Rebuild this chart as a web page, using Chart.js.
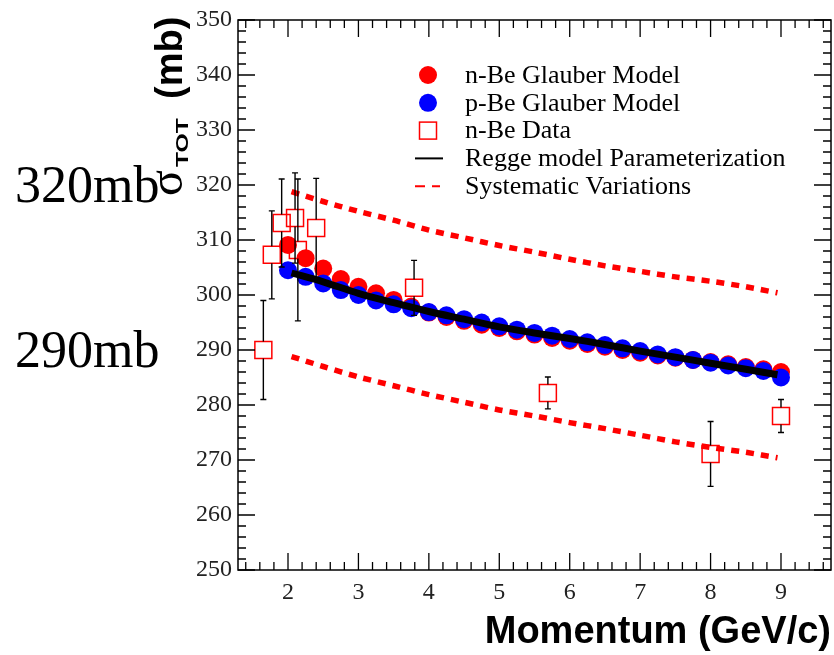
<!DOCTYPE html>
<html><head><meta charset="utf-8">
<script src="https://cdn.jsdelivr.net/npm/chart.js@4.4.1/dist/chart.umd.min.js"></script>
<style>html,body{margin:0;padding:0;background:#fff}#wrap{width:834px;height:655px;position:relative}</style>
</head><body><div id="wrap"><canvas id="c" width="834" height="655"></canvas></div>
<script>
// ---- data ----
const glauberMomenta = [2.0,2.25,2.5,2.75,3.0,3.25,3.5,3.75,4.0,4.25,4.5,4.75,5.0,5.25,5.5,5.75,6.0,6.25,6.5,6.75,7.0,7.25,7.5,7.75,8.0,8.25,8.5,8.75,9.0];
const nBeGlauber = [309.1,306.7,304.8,302.9,301.5,300.3,299.1,297.9,296.8,296.0,295.3,294.6,294.0,293.4,292.8,292.2,291.7,291.1,290.6,290.0,289.5,289.0,288.6,288.2,287.8,287.4,286.9,286.5,286.0];
const pBeGlauber = [304.5,303.3,302.1,300.9,300.0,299.0,298.3,297.6,296.9,296.3,295.6,295.0,294.3,293.7,293.1,292.6,292.0,291.4,290.9,290.3,289.8,289.2,288.7,288.2,287.7,287.2,286.7,286.2,285.0];
const dataMomenta = [1.65,1.77,1.91,2.10,2.14,2.40,3.79,5.69,8.00,9.00];
const nBeData = [290.0,307.3,313.1,314.0,308.2,312.2,301.3,282.2,271.1,278.0];
const nBeDataErr = [9.0,8.0,8.0,8.2,12.9,9.0,5.0,2.9,5.9,3.0];
const curveMomenta = [2.05,2.5,3.0,3.5,4.0,4.5,5.0,5.5,6.0,6.5,7.0,7.5,8.0,8.5,8.95];
const reggeFit = [304.0,302.4,300.3,298.6,297.0,295.6,294.2,293.1,292.1,291.0,289.8,288.7,287.6,286.5,285.5];
const sysUpper = [318.8,317.0,315.2,313.6,311.8,310.4,309.0,307.8,306.5,305.3,304.3,303.3,302.5,301.5,300.4];
const sysLower = [288.8,287.0,285.1,283.5,281.9,280.5,279.1,278.0,276.8,275.7,274.5,273.3,272.3,271.4,270.4];
const xTickValues = [2,3,4,5,6,7,8,9];
const yTickValues = [250,260,270,280,290,300,310,320,330,340,350];
const annotationValues = [320,290];
const annotationTexts = ['320mb','290mb'];
const seriesLabels = ['n-Be Glauber Model','p-Be Glauber Model','n-Be Data','Regge model Parameterization','Systematic Variations'];

const pts = (xs, ys) => xs.map((v, i) => ({x: v, y: ys[i]}));
const RED = '#ff0000', BLUE = '#0000ff';

const datasets = [
  {label: seriesLabels[0], data: pts(glauberMomenta, nBeGlauber), pointStyle: 'circle', pointRadius: 9, backgroundColor: RED, borderWidth: 0, showLine: false, order: 5},
  {label: seriesLabels[1], data: pts(glauberMomenta, pBeGlauber), pointStyle: 'circle', pointRadius: 9, backgroundColor: BLUE, borderWidth: 0, showLine: false, order: 4},
  {label: seriesLabels[2], data: pts(dataMomenta, nBeData), pointStyle: 'rect', pointRadius: 12, backgroundColor: 'rgba(0,0,0,0)', borderColor: RED, borderWidth: 1.5, showLine: false, order: 1},
  {label: seriesLabels[3], data: pts(curveMomenta, reggeFit), showLine: true, borderColor: '#000', borderWidth: 7, pointRadius: 0, tension: 0.3, order: 3},
  {label: seriesLabels[4], data: pts(curveMomenta, sysUpper), showLine: true, borderColor: RED, borderWidth: 5.5, borderDash: [8, 7], pointRadius: 0, tension: 0.3, order: 2},
  {label: seriesLabels[4], data: pts(curveMomenta, sysLower), showLine: true, borderColor: RED, borderWidth: 5.5, borderDash: [8, 7], pointRadius: 0, tension: 0.3, order: 2}
];
const legendDatasetIndex = [0, 1, 2, 3, 4];

const errorBars = {
  id: 'errorBars',
  afterDatasetsDraw(chart) {
    const {ctx, scales: {x, y}} = chart;
    ctx.save();
    ctx.strokeStyle = '#000'; ctx.lineWidth = 1.4;
    const half = 8.5, cap = 3;
    dataMomenta.forEach((m, i) => {
      const px = x.getPixelForValue(m);
      const py = y.getPixelForValue(nBeData[i]);
      const pt = y.getPixelForValue(nBeData[i] + nBeDataErr[i]);
      const pb = y.getPixelForValue(nBeData[i] - nBeDataErr[i]);
      ctx.beginPath();
      if (py - half > pt) { ctx.moveTo(px, pt); ctx.lineTo(px, py - half); }
      if (py + half < pb) { ctx.moveTo(px, py + half); ctx.lineTo(px, pb); }
      ctx.moveTo(px - cap, pt); ctx.lineTo(px + cap, pt);
      ctx.moveTo(px - cap, pb); ctx.lineTo(px + cap, pb);
      ctx.stroke();
    });
    ctx.restore();
  }
};

const frameAndText = {
  id: 'frameAndText',
  afterDraw(chart) {
    const {ctx, chartArea: a, scales: {x, y}} = chart;
    ctx.save();
    // frame
    ctx.strokeStyle = '#000'; ctx.lineWidth = 1.5;
    ctx.strokeRect(a.left, a.top, a.right - a.left, a.bottom - a.top);
    ctx.lineWidth = 1.3;
    ctx.beginPath();
    for (let v = Math.ceil(x.min * 5) / 5; v <= x.max + 1e-9; v = Math.round((v + 0.2) * 10) / 10) {
      const px = x.getPixelForValue(v);
      const len = Math.abs(v - Math.round(v)) < 1e-6 ? 17 : 8;
      ctx.moveTo(px, a.bottom); ctx.lineTo(px, a.bottom - len);
      ctx.moveTo(px, a.top); ctx.lineTo(px, a.top + len);
    }
    for (let v = y.min; v <= y.max + 1e-9; v += 2) {
      const py = y.getPixelForValue(v);
      const len = (v % 10 === 0) ? 17 : 8;
      ctx.moveTo(a.left, py); ctx.lineTo(a.left + len, py);
      ctx.moveTo(a.right, py); ctx.lineTo(a.right - len, py);
    }
    ctx.stroke();

    // legend
    const ds = chart.data.datasets;
    const mx = 428, tx = 465;
    legendDatasetIndex.forEach((di, row) => {
      const d = ds[di];
      const cy = 75 + row * 27.8;
      ctx.save();
      if (di === 0 || di === 1) {
        ctx.fillStyle = d.backgroundColor;
        ctx.beginPath(); ctx.arc(mx, cy, 9, 0, Math.PI * 2); ctx.fill();
      } else if (di === 2) {
        ctx.strokeStyle = d.borderColor; ctx.lineWidth = 1.5;
        ctx.strokeRect(mx - 8.5, cy - 8.5, 17, 17);
      } else if (di === 3) {
        ctx.strokeStyle = d.borderColor; ctx.lineWidth = 2;
        ctx.beginPath(); ctx.moveTo(mx - 13, cy); ctx.lineTo(mx + 15, cy); ctx.stroke();
      } else {
        ctx.strokeStyle = d.borderColor; ctx.lineWidth = 2;
        ctx.beginPath();
        ctx.moveTo(mx - 13, cy); ctx.lineTo(mx - 3, cy);
        ctx.moveTo(mx + 4, cy); ctx.lineTo(mx + 12, cy);
        ctx.stroke();
      }
      ctx.restore();
      ctx.fillStyle = '#000';
      ctx.font = '26px "Liberation Serif", "Times New Roman", serif';
      ctx.textAlign = 'left'; ctx.textBaseline = 'middle';
      ctx.fillText(d.label, tx, cy + 1);
    });

    // x title
    ctx.fillStyle = '#000';
    ctx.font = 'bold 38px "Liberation Sans", Arial, sans-serif';
    ctx.textAlign = 'right'; ctx.textBaseline = 'alphabetic';
    ctx.fillText('Momentum (GeV/c)', 831, 643);

    // y title (rotated) : sigma_TOT (mb)
    ctx.save();
    ctx.translate(182, 196);
    ctx.rotate(-Math.PI / 2);
    ctx.textAlign = 'left'; ctx.textBaseline = 'alphabetic';
    ctx.font = '48px "Liberation Serif", serif';
    ctx.fillText('\u03C3', 0, 0);
    ctx.save();
    ctx.translate(29, 6);
    ctx.scale(1.45, 1);
    ctx.font = 'bold 17px "Liberation Sans", Arial, sans-serif';
    ctx.fillText('TOT', 0, 0);
    ctx.restore();
    ctx.font = 'bold 38px "Liberation Sans", Arial, sans-serif';
    ctx.fillText('(mb)', 97, 0);
    ctx.restore();

    // annotations
    ctx.font = '52px "Liberation Serif", "Times New Roman", serif';
    ctx.textAlign = 'left'; ctx.textBaseline = 'middle';
    annotationValues.forEach((v, i) => {
      ctx.fillText(annotationTexts[i], 15, y.getPixelForValue(v) + 3);
    });
    ctx.restore();
  }
};

new Chart(document.getElementById('c'), {
  type: 'scatter',
  data: {datasets},
  options: {
    responsive: false,
    animation: false,
    layout: {autoPadding: false, padding: {left: 0, right: 3, top: 20, bottom: 0}},
    plugins: {legend: {display: false}, tooltip: {enabled: false}},
    scales: {
      x: {
        type: 'linear', min: 1.29, max: 9.71,
        grid: {display: false, drawTicks: false}, border: {display: false},
        afterBuildTicks: (axis) => { axis.ticks = xTickValues.map(v => ({value: v})); },
        afterFit: (s) => { s.height = 85; s.paddingLeft = 0; s.paddingRight = 0; },
        ticks: {autoSkip: false, maxRotation: 0, padding: 8, color: '#222',
                font: {family: '"Liberation Serif", "Times New Roman", serif', size: 24}}
      },
      y: {
        type: 'linear', min: 250, max: 350,
        grid: {display: false, drawTicks: false}, border: {display: false},
        afterBuildTicks: (axis) => { axis.ticks = yTickValues.map(v => ({value: v})); },
        afterFit: (s) => { s.width = 238; s.paddingTop = 0; s.paddingBottom = 0; },
        ticks: {autoSkip: false, padding: 6, color: '#222',
                font: {family: '"Liberation Serif", "Times New Roman", serif', size: 24}}
      }
    }
  },
  plugins: [errorBars, frameAndText]
});
</script>
</body></html>
